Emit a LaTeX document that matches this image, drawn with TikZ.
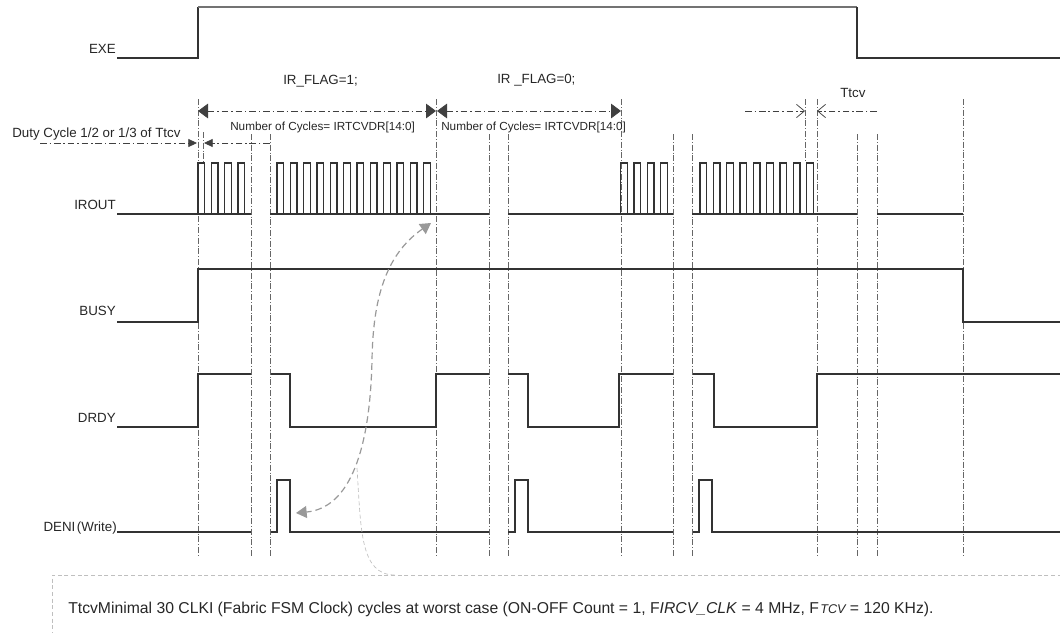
\documentclass[tikz,border=0pt]{standalone}
\usepackage{fontspec}
\setmainfont{Liberation Sans}
\usetikzlibrary{arrows.meta}
\begin{document}
\begin{tikzpicture}[x=0.75pt,y=-0.75pt,
  sig/.style={line width=1.05pt, draw=black!80},
  exehigh/.style={line width=1.7pt, draw=black!55},
  guide/.style={line width=0.5pt, draw=black!60, dash pattern=on 4.5pt off 1.5pt on 0.5pt off 1.5pt},
  dimline/.style={line width=0.6pt, draw=black!75, dash pattern=on 5pt off 2.2pt on 1pt off 2.2pt},
  bigtip/.tip={Triangle[length=7.5pt,width=11pt]},
  smalltip/.tip={Triangle[length=6.5pt,width=6pt]},
  opentip/.tip={Straight Barb[length=6pt,width=10pt,line width=0.55pt]},
  graytip/.tip={Triangle[length=8pt,width=9pt]},
  grayarrow/.style={line width=0.9pt, draw=black!40, fill=none, dash pattern=on 5pt off 3pt},
  thinlink/.style={line width=0.5pt, draw=black!25, dash pattern=on 3pt off 2pt},
  lbl/.style={font=\fontsize{10}{12}\selectfont, inner sep=0pt, text=black!85},
  smalllbl/.style={font=\fontsize{8.8}{10}\selectfont, inner sep=0pt, text=black!85},
  notelbl/.style={font=\fontsize{11.8}{14}\selectfont, inner sep=0pt, text=black!85}
]
\useasboundingbox (0,0) rectangle (1060,632);

% ---------- guide lines ----------
\foreach \x/\t in {198/99, 251/134, 270/134, 436/99, 489/134, 508/134, 621/99, 673/134, 692/134, 817/99, 857/134, 877/134, 963/99}
  \draw[guide] (\x,\t) -- (\x,556);
\draw[guide] (203,132) -- (203,162);
\draw[guide] (805,99) -- (805,162);

% ---------- signal labels ----------
\node[lbl, anchor=base east] (lexe) at (116,53) {EXE};
\node[lbl, anchor=base east] (lirout) at (116,209) {IROUT};
\node[lbl, anchor=base east] (lbusy) at (116,315) {BUSY};
\node[lbl, anchor=base east] (ldrdy) at (116,422) {DRDY};
\node[lbl, anchor=base east] (ldeni) at (117,531) {DENI\kern1.2pt(Write)};

% ---------- EXE ----------
\draw[sig] (117,58) -- (198,58) -- (198,7);
\draw[exehigh] (198,7) -- (857,7);
\draw[sig] (857,7) -- (857,58) -- (1060,58);

% ---------- IROUT ----------
\draw[sig] (117,214) -- (251,214);
\foreach \k in {0,...,3}
  \draw[sig] ({198+13.33*\k},214) |- ({204.7+13.33*\k},163) -- ({204.7+13.33*\k},214);
\draw[sig] (270,214) -- (489,214);
\foreach \k in {0,...,11}
  \draw[sig] ({277+13.33*\k},214) |- ({283.7+13.33*\k},163) -- ({283.7+13.33*\k},214);
\draw[sig] (508,214) -- (673,214);
\foreach \k in {0,...,3}
  \draw[sig] ({620.7+13.33*\k},214) |- ({627.4+13.33*\k},163) -- ({627.4+13.33*\k},214);
\draw[sig] (692,214) -- (857,214);
\foreach \k in {0,...,8}
  \draw[sig] ({700+13.33*\k},214) |- ({706.7+13.33*\k},163) -- ({706.7+13.33*\k},214);
\draw[sig] (877,214) -- (963,214);

% ---------- BUSY ----------
\draw[sig] (117,322) -- (198,322) -- (198,269) -- (963,269) -- (963,322) -- (1060,322);

% ---------- DRDY ----------
\draw[sig] (117,427) -- (198,427) -- (198,374) -- (251,374);
\draw[sig] (271,374) -- (290,374) -- (290,427) -- (436,427) -- (436,374) -- (489,374);
\draw[sig] (508,374) -- (528,374) -- (528,427) -- (619,427) -- (619,374) -- (673,374);
\draw[sig] (693,374) -- (714,374) -- (714,427) -- (817,427) -- (817,374) -- (1060,374);

% ---------- DENI ----------
\draw[sig] (117,532) -- (251,532);
\draw[sig] (271,532) -- (277,532) -- (277,480) -- (290,480) -- (290,532) -- (489,532);
\draw[sig] (508,532) -- (515,532) -- (515,480) -- (528,480) -- (528,532) -- (673,532);
\draw[sig] (693,532) -- (699,532) -- (699,480) -- (712,480) -- (712,532) -- (1060,532);

% ---------- top labels and dimensions ----------
\node[lbl, anchor=base west] (flag1) at (283,84) {IR\_FLAG=1;};
\node[lbl, anchor=base west] (flag0) at (497,83) {IR \_FLAG=0;};
\node[lbl, anchor=base west] (ttcv) at (840,97) {Ttcv};
\node[lbl, anchor=base west] (duty) at (12,137) {Duty Cycle 1/2 or 1/3 of Ttcv};
\node[smalllbl, anchor=base west] (ncyc1) at (230,130) {Number of Cycles= IRTCVDR[14:0]};
\node[smalllbl, anchor=base west] (ncyc2) at (441,130) {Number of Cycles= IRTCVDR[14:0]};

\coordinate (d1a) at (198,111);
\coordinate (d1b) at (436,111);
\coordinate (d2a) at (437,111);
\coordinate (d2b) at (621,111);
\draw[dimline, {bigtip}-{bigtip}] (d1a) -- (d1b);
\draw[dimline, {bigtip}-{bigtip}] (d2a) -- (d2b);

\coordinate (dc1) at (40,143);
\coordinate (dc2) at (197,143);
\coordinate (dc3) at (270,143);
\coordinate (dc4) at (204,143);
\draw[dimline, -{smalltip}] (dc1) -- (dc2);
\draw[dimline, -{smalltip}] (dc3) -- (dc4);

\coordinate (t1) at (745,111);
\coordinate (t2) at (805,111);
\coordinate (t3) at (877,111);
\coordinate (t4) at (817,111);
\draw[dimline, -{opentip}] (t1) -- (t2);
\draw[dimline, -{opentip}] (t3) -- (t4);

% ---------- gray curved arrow ----------
\coordinate (ga) at (431,223);
\coordinate (gb) at (296,513);
\draw[grayarrow, {graytip[fill=black!40]}-{graytip[fill=black!40]}] (ga) .. controls (385,255) and (373,300) .. (372,360) .. controls (370,450) and (350,508) .. (gb);

% ---------- note box ----------
\coordinate (lk1) at (357,468);
\coordinate (lk2) at (395,575);
\draw[thinlink] (lk1) .. controls (361,530) and (360,575) .. (lk2);
\draw[thinlink] (1075,575) -- (52,575) -- (52,645);
\node[notelbl, anchor=base west] (note) at (68,613) {TtcvMinimal 30 CLKI (Fabric FSM Clock) cycles at worst case (ON-OFF Count = 1, F\textit{IRCV\_CLK} = 4 MHz, F\kern1pt{\fontsize{9.5}{11}\selectfont\itshape TCV} = 120 KHz).};
\end{tikzpicture}
\end{document}
